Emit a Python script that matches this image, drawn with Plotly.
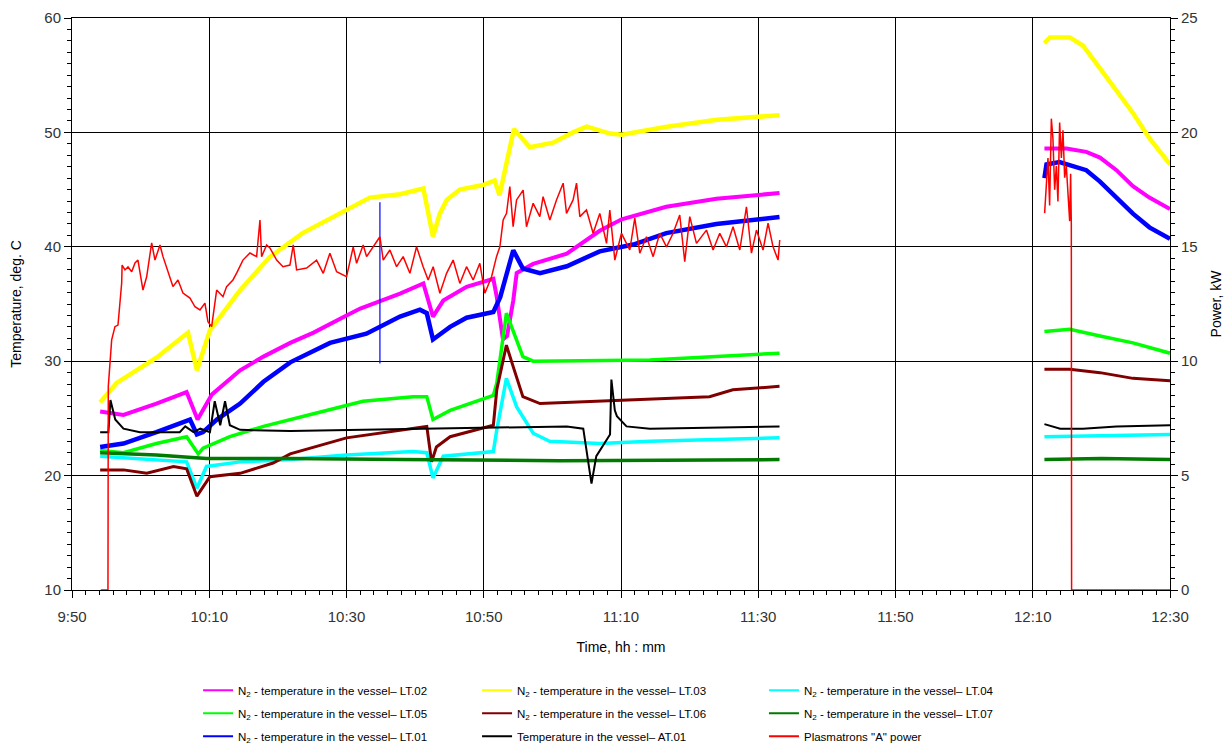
import datetime as dt
import plotly.graph_objects as go

BASE = dt.datetime(2000, 1, 1, 9, 50)
GAP = (None, None)

# (minutes after 9:50, temperature in deg C)
lt02 = [(4.1, 25.6), (7.5, 25.3), (12.3, 26.3), (16.7, 27.3), (18.3, 24.9), (20.4, 27.1),
        (24.5, 29.2), (27.9, 30.4), (31.8, 31.6), (35.2, 32.5), (40.0, 34.0), (42.0, 34.6),
        (47.8, 35.9), (51.2, 36.8), (52.6, 33.9), (54.1, 35.3), (57.5, 36.5), (61.4, 37.2),
        (61.9, 35.6), (62.8, 31.9), (63.4, 32.2), (64.3, 35.3), (64.8, 37.7), (67.2, 38.5),
        (72.1, 39.4), (76.9, 41.4), (80.1, 42.4), (84.2, 43.1), (86.6, 43.5), (93.9, 44.2),
        (103.1, 44.7), GAP,
        (141.7, 48.6), (144.9, 48.6), (147.8, 48.3), (149.8, 47.8), (152.2, 46.7),
        (154.6, 45.3), (157.0, 44.3), (160.0, 43.3)]

lt03 = [(4.1, 26.4), (6.5, 28.1), (12.3, 30.3), (16.9, 32.5), (18.2, 29.2), (20.1, 32.7),
        (24.5, 36.2), (28.8, 39.1), (33.6, 41.2), (40.0, 43.2), (43.4, 44.3), (47.8, 44.6),
        (51.2, 45.1), (52.6, 40.9), (53.6, 42.9), (54.6, 44.1), (56.5, 45.0), (59.9, 45.4),
        (61.6, 45.8), (62.3, 44.5), (64.4, 50.3), (66.7, 48.7), (70.1, 49.1), (73.0, 50.0),
        (75.0, 50.5), (78.4, 49.9), (80.1, 49.8), (86.7, 50.5), (94.0, 51.1), (103.1, 51.5), GAP,
        (141.7, 57.8), (142.5, 58.3), (145.4, 58.3), (147.3, 57.6), (149.8, 55.6),
        (154.6, 51.7), (157.0, 49.5), (160.0, 47.2)]

lt04 = [(4.1, 21.7), (12.3, 21.4), (16.7, 21.2), (18.2, 18.9), (19.6, 20.8), (24.5, 21.2),
        (31.8, 21.4), (40.0, 21.8), (49.7, 22.1), (51.7, 22.0), (52.6, 19.8), (54.1, 21.7),
        (61.4, 22.1), (61.9, 24.0), (63.3, 28.5), (64.8, 26.0), (67.2, 23.7), (69.6, 23.0),
        (76.9, 22.8), (84.2, 23.0), (103.1, 23.3), GAP,
        (141.7, 23.4), (150.0, 23.5), (160.0, 23.6)]

lt05 = [(4.1, 22.2), (7.5, 22.0), (12.3, 22.8), (16.7, 23.4), (18.4, 21.9), (19.1, 22.4),
        (23.0, 23.4), (27.9, 24.3), (35.2, 25.4), (42.4, 26.5), (49.7, 26.9), (51.7, 26.9),
        (52.6, 24.9), (55.1, 25.7), (61.4, 27.0), (61.9, 28.1), (63.3, 34.2), (64.3, 32.7),
        (65.7, 30.4), (67.2, 30.0), (76.9, 30.1), (84.2, 30.1), (90.5, 30.3), (103.1, 30.7), GAP,
        (141.7, 32.6), (145.4, 32.8), (149.8, 32.2), (154.6, 31.6), (160.0, 30.7)]

lt06 = [(4.1, 20.5), (7.5, 20.5), (10.9, 20.2), (14.8, 20.8), (16.7, 20.6), (18.2, 18.2),
        (20.1, 19.9), (24.5, 20.2), (29.3, 21.1), (31.8, 21.9), (40.0, 23.3), (49.7, 24.1),
        (51.7, 24.3), (52.4, 21.2), (53.1, 22.5), (55.1, 23.4), (61.4, 24.4), (61.9, 27.5),
        (63.3, 31.4), (64.3, 29.5), (65.7, 26.9), (68.2, 26.3), (76.9, 26.5), (85.7, 26.7),
        (92.9, 26.9), (96.3, 27.5), (103.1, 27.8), GAP,
        (141.7, 29.3), (145.4, 29.3), (149.8, 29.0), (154.6, 28.5), (160.0, 28.3)]

lt07 = [(4.1, 22.0), (12.3, 21.8), (19.6, 21.5), (31.8, 21.5), (47.8, 21.4), (71.1, 21.3),
        (103.1, 21.4), GAP,
        (141.7, 21.4), (150.0, 21.5), (160.0, 21.4)]

lt01 = [(4.1, 22.5), (7.5, 22.8), (12.3, 23.8), (16.2, 24.7), (17.2, 24.9), (18.2, 23.6),
        (19.1, 23.8), (21.1, 24.9), (24.5, 26.3), (27.9, 28.2), (31.8, 29.9), (37.6, 31.6),
        (42.9, 32.4), (47.8, 33.9), (50.7, 34.5), (51.7, 34.2), (52.6, 31.9), (55.1, 33.0),
        (57.5, 33.8), (61.4, 34.3), (62.4, 35.6), (64.3, 39.7), (65.7, 38.1), (68.2, 37.7),
        (72.1, 38.3), (76.9, 39.6), (81.8, 40.2), (86.6, 41.2), (93.9, 42.0), (103.1, 42.6), GAP,
        (141.7, 46.0), (142.0, 47.2), (143.9, 47.4), (145.4, 47.1), (147.8, 46.7),
        (149.8, 45.7), (152.2, 44.3), (154.6, 42.9), (157.0, 41.7), (160.0, 40.7)]

# single-sample spike recorded by LT.01 around 10:35
lt01_spike = [(44.87, 43.9), (44.87, 29.8)]

at01 = [(4.1, 23.8), (5.3, 23.8), (5.6, 26.6), (6.3, 24.9), (7.5, 24.1), (9.9, 23.8),
        (15.7, 23.8), (16.5, 24.3), (17.7, 23.8), (18.7, 24.1), (20.1, 23.8), (20.8, 26.5),
        (21.6, 24.4), (22.3, 26.5), (23.0, 24.4), (24.5, 24.0), (31.8, 23.9), (49.7, 24.1),
        (72.1, 24.3), (74.5, 24.1), (75.7, 19.3), (76.4, 21.7), (78.4, 23.6), (78.6, 28.4),
        (79.1, 25.7), (79.4, 25.2), (80.8, 24.3), (84.2, 24.1), (103.1, 24.3), GAP,
        (141.7, 24.5), (144.0, 24.1), (147.3, 24.1), (152.2, 24.3), (160.0, 24.4)]

# (minutes after 9:50, power in kW)
power_a = [(4.2, 0.0), (5.24, 0.0), (5.29, 8.89), (5.78, 10.93), (6.26, 11.51), (6.70, 11.58),
           (7.24, 13.42), (7.30, 14.2), (7.72, 13.99), (8.16, 14.12), (8.70, 13.91), (9.18, 14.29),
           (9.61, 14.42), (9.91, 13.85), (10.34, 13.11), (10.88, 13.69), (11.61, 15.17),
           (12.09, 14.42), (12.82, 15.08), (13.26, 14.57), (14.28, 13.69), (14.71, 13.26),
           (15.44, 13.55), (16.17, 12.98), (17.19, 12.76), (17.92, 12.38), (18.65, 12.24),
           (19.37, 12.54), (19.81, 11.73), (20.35, 11.51), (21.08, 13.11), (22.0, 12.82),
           (22.53, 13.26), (23.45, 13.55), (23.99, 13.85), (24.91, 14.42), (25.93, 14.73),
           (26.9, 14.57), (27.39, 16.17), (27.63, 14.57), (28.36, 15.08), (28.84, 14.95),
           (29.82, 14.42), (30.74, 14.13), (31.76, 14.2), (32.24, 15.08), (32.73, 13.99),
           (34.19, 14.07), (35.64, 14.42), (36.61, 13.84), (37.58, 14.72), (38.56, 13.91),
           (40.01, 13.69), (40.98, 15.0), (41.47, 14.28), (42.43, 15.08), (42.93, 14.57),
           (43.89, 15.0), (44.87, 15.44), (45.35, 14.42), (46.32, 14.86), (47.3, 14.13),
           (48.26, 14.57), (49.24, 13.84), (50.21, 15.0), (51.17, 14.13), (51.9, 13.55),
           (52.63, 14.13), (53.61, 12.97), (54.58, 13.84), (55.54, 14.42), (56.52, 13.4),
           (57.49, 14.13), (58.46, 13.55), (59.43, 14.28), (60.16, 12.97), (61.14, 13.69),
           (61.86, 14.57), (62.35, 15.0), (62.83, 16.17), (63.32, 16.46), (63.8, 17.63),
           (64.28, 15.88), (64.78, 17.05), (65.74, 17.48), (66.23, 15.88), (67.2, 16.9),
           (68.17, 16.32), (68.65, 17.19), (69.63, 16.17), (70.6, 17.05), (71.57, 17.78),
           (72.06, 16.46), (73.02, 17.05), (73.52, 17.78), (74.0, 16.32), (74.97, 16.61),
           (75.94, 15.59), (76.91, 16.46), (77.89, 15.15), (78.37, 16.61), (79.1, 14.42),
           (80.07, 15.59), (81.28, 14.86), (82.01, 16.25), (82.74, 14.72), (83.71, 15.44),
           (84.68, 14.57), (85.65, 15.59), (86.63, 15.0), (87.59, 15.59), (88.56, 16.39),
           (89.29, 14.35), (90.02, 16.32), (91.0, 15.15), (92.45, 15.73), (93.42, 14.86),
           (94.39, 15.59), (95.37, 15.0), (96.33, 15.88), (97.31, 14.86), (98.28, 16.75),
           (99.01, 14.72), (99.74, 15.73), (100.7, 14.86), (101.43, 16.03), (102.16, 15.0),
           (102.89, 14.42), (103.13, 15.3), GAP,
           (141.73, 16.47), (141.97, 17.67), (142.22, 18.88), (142.46, 16.81), (142.71, 20.6),
           (142.94, 19.74), (143.19, 17.5), (143.44, 18.53), (143.67, 16.98), (143.92, 20.43),
           (144.17, 18.88), (144.4, 20.09), (144.65, 18.02), (144.89, 18.53), (145.13, 17.5),
           (145.38, 16.12), (145.52, 18.19), (145.62, 15.95), (145.66, 0.0), (160.0, 0.0)]

N2 = "N<sub>2</sub> - temperature in the vessel– "
LABELS = [N2 + "LT.02", N2 + "LT.03", N2 + "LT.04",
          N2 + "LT.05", N2 + "LT.06", N2 + "LT.07",
          N2 + "LT.01", "Temperature in the vessel– AT.01", 'Plasmatrons "A" power']


def to_xy(pairs):
    xs, ys = [], []
    for m, v in pairs:
        xs.append(None if m is None else BASE + dt.timedelta(minutes=m))
        ys.append(v)
    return xs, ys


# data, label, colour, line width, y axis, legend column
series = [
    (lt02, LABELS[0], "#FF00FF", 4.0, "y", "legend"),
    (lt03, LABELS[1], "#FFFF00", 4.5, "y", "legend2"),
    (lt04, LABELS[2], "#00FFFF", 3.5, "y", "legend3"),
    (lt05, LABELS[3], "#00FF00", 3.5, "y", "legend"),
    (lt06, LABELS[4], "#800000", 3.0, "y", "legend2"),
    (lt07, LABELS[5], "#007A00", 3.5, "y", "legend3"),
    (lt01, LABELS[6], "#0000FF", 4.5, "y", "legend"),
    (at01, LABELS[7], "#000000", 2.0, "y", "legend2"),
    (power_a, LABELS[8], "#FF0000", 1.5, "y2", "legend3"),
]

fig = go.Figure()
for pairs, name, color, width, yax, leg in series:
    xs, ys = to_xy(pairs)
    fig.add_trace(go.Scatter(
        x=xs, y=ys, name=name, mode="lines", yaxis=yax,
        line=dict(color=color, width=width), connectgaps=False,
        legendgroup=name, showlegend=False,
    ))
    if pairs is lt01:
        sx, sy = to_xy(lt01_spike)
        fig.add_trace(go.Scatter(
            x=sx, y=sy, mode="lines", yaxis="y", showlegend=False,
            legendgroup=name, line=dict(color=color, width=1.2),
        ))

# legend keys drawn with thin sample lines, one column per legend box
for pairs, name, color, width, yax, leg in series:
    fig.add_trace(go.Scatter(
        x=[None], y=[None], name=name, mode="lines", yaxis=yax,
        line=dict(color=color, width=2), legendgroup=name, legend=leg,
        showlegend=True,
    ))

FONT = "Liberation Sans, Arial, sans-serif"
tick_font = dict(family=FONT, size=15, color="#333333")
title_font = dict(family=FONT, size=14, color="#000000")
legend_font = dict(family=FONT, size=11.5, color="#000000")

legend_common = dict(
    orientation="v", y=-0.15, xanchor="left", yanchor="top",
    font=legend_font, bgcolor="rgba(0,0,0,0)",
    traceorder="grouped", tracegroupgap=4,
)

fig.update_layout(
    width=1229, height=747,
    margin=dict(l=72, r=59, t=18, b=157, autoexpand=False),
    paper_bgcolor="white", plot_bgcolor="white",
    font=dict(family=FONT, color="#000000"),
    xaxis=dict(
        type="date",
        range=[BASE, BASE + dt.timedelta(minutes=160)],
        tick0=BASE, dtick=20 * 60 * 1000, tickformat="%-H:%M",
        ticks="outside", ticklen=7, tickcolor="#000000", tickwidth=1,
        minor=dict(dtick=2 * 60 * 1000, ticks="outside", ticklen=4,
                   tickcolor="#000000", showgrid=False),
        showgrid=True, gridcolor="#000000", gridwidth=1,
        showline=True, linecolor="#000000", linewidth=1, mirror=True,
        tickfont=tick_font, ticklabelstandoff=6,
        title=dict(text="Time, hh : mm", font=title_font, standoff=18),
        zeroline=False,
    ),
    yaxis=dict(
        range=[10, 60], dtick=10, tick0=10,
        ticks="outside", ticklen=7, tickcolor="#000000",
        minor=dict(dtick=1, ticks="outside", ticklen=4, tickcolor="#000000", showgrid=False),
        showgrid=True, gridcolor="#000000", gridwidth=1,
        showline=True, linecolor="#000000", linewidth=1,
        tickfont=tick_font, zeroline=False,
        title=dict(text="Temperature, deg. C", font=title_font, standoff=19),
    ),
    yaxis2=dict(
        range=[0, 25], dtick=5, tick0=0, overlaying="y", side="right",
        ticks="outside", ticklen=7, tickcolor="#000000",
        minor=dict(dtick=0.5, ticks="outside", ticklen=4, tickcolor="#000000", showgrid=False),
        showgrid=False, showline=True, linecolor="#000000", linewidth=1,
        tickfont=tick_font, zeroline=False,
        title=dict(text="Power, kW", font=title_font, standoff=14),
    ),
    legend=dict(x=0.1148, **legend_common),
    legend2=dict(x=0.3689, **legend_common),
    legend3=dict(x=0.6302, **legend_common),
    showlegend=True,
)

fig.write_html("out.html")
